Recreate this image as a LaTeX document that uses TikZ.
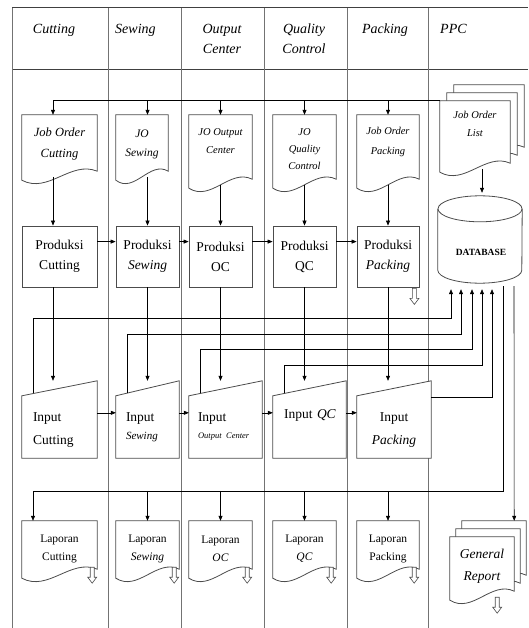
\documentclass[tikz,border=0pt]{standalone}
\usepackage{fontspec}
\setmainfont{Liberation Serif}
\usetikzlibrary{arrows.meta,calc,backgrounds}

% document sheet with a wavy lower edge: [offset]{node}{extra drop of the left corner}
\newcommand\docoutline[3][(0,0)]{%
  \draw[shapeline] ($(#2.south east)+(0,#3-9)+#1$) -- ($(#2.north east)+#1$) -- ($(#2.north west)+#1$) -- ($(#2.south west)+(0,#3)+#1$)
    .. controls ($(#2.south west)!0.35!(#2.south east)+(0,#3+14)+#1$) and ($(#2.south west)!0.65!(#2.south east)+(0,#3-20)+#1$) .. ($(#2.south east)+(0,#3-9)+#1$) coordinate[pos=0.5] (#2 wave) -- cycle;}
% manual input with slanted top
\newcommand\inoutline[1]{%
  \draw[shapeline] (#1.south west) -- ($(#1.north west)+(0,15)$) -- (#1.north east) -- (#1.south east) -- cycle;}
% small open arrow pointing down
\newcommand\hollowarrow[2]{%
  \draw[shapeline,line width=0.6pt] ($(#1)+#2+(-2,0)$) -- ++(0,10) -- ++(-2.5,0) -- ++(4.5,6) -- ++(4.5,-6) -- ++(-2.5,0) -- ++(0,-10) -- cycle;}

\begin{document}
\begin{tikzpicture}[x=1pt,y=-1pt,
  col/.style={draw=black!55,line width=1pt},
  frame/.style={draw=black!75,line width=1pt},
  shapeline/.style={draw=black!70,line width=0.8pt,fill=white},
  arr/.style={draw=black,line width=0.6pt,-{Triangle[length=5pt,width=4pt]}},
  hdr/.style={inner sep=0pt,align=center,anchor=north,font=\fontsize{14}{20}\selectfont\itshape},
  docnode/.style={inner sep=0pt,align=center},
  probox/.style={draw=black!70,line width=0.8pt,inner sep=0pt,minimum height=61pt,align=center,font=\fontsize{13.5}{20}\selectfont},
  innode/.style={inner sep=0pt,minimum height=77pt,align=left,font=\fontsize{13.5}{23}\selectfont},
  lapnode/.style={docnode,minimum height=56pt,font=\fontsize{11.5}{18}\selectfont}]
\useasboundingbox (0,0) rectangle (528,628);

% header
\node[hdr] (hcut) at (54,24) {Cutting};
\node[hdr,anchor=north west] (hsew) at (115,24) {Sewing};
\node[hdr] (hoc) at (222,24) {Output\\Center};
\node[hdr] (hqc) at (304,24) {Quality\\Control};
\node[hdr] (hpk) at (385,24) {Packing};
\node[hdr,anchor=north west] (hppc) at (440,24) {PPC};

% job orders
\node[docnode,minimum width=75pt,minimum height=58pt,font=\fontsize{12.5}{21}\selectfont\itshape] (jocut) at (59.5,144) {Job Order\\Cutting};
\node[docnode,minimum width=52pt,minimum height=59pt,font=\fontsize{11.5}{19}\selectfont\itshape] (jos) at (142,144.5) {JO\\Sewing};
\node[docnode,minimum width=63pt,minimum height=52pt,font=\fontsize{10.5}{18}\selectfont\itshape] (jooc) at (220.5,141) {JO Output\\Center};
\node[docnode,minimum width=63pt,minimum height=69pt,font=\fontsize{10.5}{17}\selectfont\itshape] (joqc) at (304.5,149.5) {JO\\Quality\\Control};
\node[docnode,minimum width=62pt,minimum height=54pt,font=\fontsize{10.5}{20}\selectfont\itshape] (jopk) at (388,142) {Job Order\\Packing};
\node[docnode,minimum width=70pt,minimum height=46pt,font=\fontsize{10.5}{18}\selectfont\itshape] (jol) at (475,124) {Job Order\\List};

% production
\node[probox,minimum width=75pt] (prcut) at (59.5,256.5) {Produksi\\Cutting};
\node[probox,minimum width=63pt] (prsew) at (147.5,256.5) {Produksi\\\textit{Sewing}};
\node[probox,minimum width=63pt] (proc) at (220.5,256.5) {Produksi\\OC};
\node[probox,minimum width=63pt] (prqc) at (304.5,256.5) {Produksi\\QC};
\node[probox,minimum width=62pt] (prpk) at (388,256.5) {Produksi\\\textit{Packing}};

% database
\node[inner sep=0pt,minimum width=84pt,minimum height=87pt] (db) at (480,239.5) {};
\node[inner sep=0pt,font=\fontsize{9.5}{11}\selectfont\bfseries] (dbname) at (481,252) {DATABASE};

% input
\node[innode,minimum width=75pt,text width=53pt] (incut) at (59.5,419.5) {\rule{0pt}{29pt}Input\\Cutting};
\node[innode,minimum width=63pt,text width=43pt] (insew) at (147.5,419.5) {\rule{0pt}{24pt}Input\\[-5pt]{\fontsize{11}{12}\selectfont\itshape Sewing}};
\node[innode,minimum width=73pt,text width=55pt] (inoc) at (225.5,419.5) {\rule{0pt}{22pt}Input\\[-6pt]{\fontsize{8.5}{10}\selectfont\itshape Output Center}};
\node[innode,minimum width=73pt,text width=51pt,text depth=10pt] (inqc) at (309.5,419.5) {\mbox{Input \textit{QC}}};
\node[innode,minimum width=74pt,align=center] (inpk) at (394,419.5) {\rule{0pt}{29pt}Input\\\textit{Packing}};

% reports
\node[lapnode,minimum width=75pt] (lapcut) at (59.5,549) {Laporan\\Cutting};
\node[lapnode,minimum width=63pt] (lapsew) at (147.5,549) {Laporan\\\textit{Sewing}};
\node[lapnode,minimum width=63pt] (lapoc) at (220.5,549) {Laporan\\\textit{OC}};
\node[lapnode,minimum width=63pt] (lapqc) at (304.5,549) {Laporan\\\textit{QC}};
\node[lapnode,minimum width=62pt] (lappk) at (388,549) {Laporan\\Packing};
\node[docnode,minimum width=64pt,minimum height=58pt,font=\fontsize{13.5}{22}\selectfont\itshape] (gr) at (482,566) {General\\Report};

\begin{pgfonlayer}{background}
% swimlanes
\draw[frame] (12,8) -- (528,8);
\draw[frame] (12,70) -- (528,70);
\draw[col] (12,8) -- (12,628);
\draw[col] (108,8) -- (108,628);
\draw[col] (181,8) -- (181,628);
\draw[col] (264,8) -- (264,628);
\draw[col] (347,8) -- (347,628);
\draw[col] (428,8) -- (428,628);
% sheets
\docoutline{jocut}{7}
\docoutline{jos}{6}
\docoutline{jooc}{21}
\docoutline{joqc}{4}
\docoutline{jopk}{19}
\docoutline[(14,-16)]{jol}{25}
\docoutline[(7,-8)]{jol}{25}
\docoutline{jol}{25}
\inoutline{incut}
\inoutline{insew}
\inoutline{inoc}
\inoutline{inqc}
\inoutline{inpk}
\docoutline{lapcut}{1}
\docoutline{lapsew}{1}
\docoutline{lapoc}{1}
\docoutline{lapqc}{1}
\docoutline{lappk}{1}
\docoutline[(12,-16)]{gr}{5}
\docoutline[(6,-8)]{gr}{5}
\docoutline{gr}{5}
% cylinder
\draw[shapeline] ($(db.north west)+(0,13)$) -- ($(db.south west)+(0,-13)$) arc[start angle=180,end angle=0,x radius=42,y radius=13] -- ($(db.north east)+(0,13)$);
\draw[shapeline] ($(db.north)+(0,13)$) ellipse[x radius=42,y radius=13];
\end{pgfonlayer}

\hollowarrow{prpk.south east}{(-5,1)}
\hollowarrow{lapcut.south east}{(-5,-10)}
\hollowarrow{lapsew.south east}{(-5,-10)}
\hollowarrow{lapoc.south east}{(-5,-10)}
\hollowarrow{lapqc.south east}{(-5,-10)}
\hollowarrow{lappk.south east}{(-5,-10)}
\hollowarrow{gr.south east}{(-17,2)}

% job order list to each lane
\draw[arr] (jol.north west) -| ($(jocut.north)+(-6.5,0)$);
\draw[arr] (prsew.north |- jol.north west) -- (prsew.north |- jos.north);
\draw[arr] (proc.north |- jol.north west) -- (jooc.north);
\draw[arr] (prqc.north |- jol.north west) -- (joqc.north);
\draw[arr] (prpk.north |- jol.north west) -- (jopk.north);
\draw[arr] ([xshift=2pt]db.north |- jol wave) -- ([xshift=2pt,yshift=3pt]db.north);

% job order to production
\draw[arr] ($(prcut.north |- jocut wave)+(-6.5,0)$) -- ($(prcut.north)+(-6.5,0)$);
\draw[arr] (prsew.north |- jos wave) -- (prsew.north);
\draw[arr] (proc.north |- jooc wave) -- (proc.north);
\draw[arr] (prqc.north |- joqc wave) -- (prqc.north);
\draw[arr] (prpk.north |- jopk wave) -- (prpk.north);
\draw[arr] ([yshift=-16pt]prcut.north east) -- ([yshift=-16pt]prsew.north west);
\draw[arr] ([yshift=-16pt]prsew.north east) -- ([yshift=-16pt]proc.north west);
\draw[arr] ([yshift=-16pt]proc.north east) -- ([yshift=-16pt]prqc.north west);
\draw[arr] ([yshift=-16pt]prqc.north east) -- ([yshift=-16pt]prpk.north west);

% production to input
\draw[arr] ($(prcut.south)+(-6.5,0)$) -- ($(incut.north)+(-6.5,0)$);
\draw[arr] (prsew.south) -- (insew.north);
\draw[arr] (proc.south) -- (proc.south |- inoc.north);
\draw[arr] (prqc.south) -- (prqc.south |- inqc.north);
\draw[arr] (prpk.south) -- (prpk.south |- inpk.north);
\draw[arr] ([yshift=-32pt]incut.north east) -- ([yshift=-32pt]insew.north west);
\draw[arr] ([yshift=-32pt]insew.north east) -- ([yshift=-32pt]inoc.north west);
\draw[arr] ([yshift=-32pt]inoc.north east) -- ([yshift=-32pt]inqc.north west);
\draw[arr] ([yshift=-32pt]inqc.north east) -- ([yshift=-32pt]inpk.north west);

% input to database
\draw[arr] ($(incut.north west)+(11,12.5)$) -- ++(0,-75) -| ([xshift=-29pt,yshift=-6pt]db.south);
\draw[arr] ($(insew.north west)+(11,12.5)$) -- ++(0,-59) -| ([xshift=-19pt,yshift=-6pt]db.south);
\draw[arr] ($(inoc.north west)+(11,12.5)$) -- ++(0,-44) -| ([xshift=-8pt,yshift=-6pt]db.south);
\draw[arr] ($(inqc.north west)+(11,12.5)$) -- ++(0,-28) -| ([xshift=2pt,yshift=-6pt]db.south);
\draw[arr] ([yshift=-16pt]inpk.north east) -| ([xshift=12pt,yshift=-6pt]db.south);

% database to reports
\draw[arr] ([xshift=23pt,yshift=-3pt]db.south) |- ($(lapcut.north)+(-26.5,-30)$) -- ($(lapcut.north)+(-26.5,0)$);
\draw[arr] ([yshift=30pt]lapsew.north) -- (lapsew.north);
\draw[arr] ([yshift=30pt]lapoc.north) -- (lapoc.north);
\draw[arr] ([yshift=30pt]lapqc.north) -- (lapqc.north);
\draw[arr] ([yshift=30pt]lappk.north) -- (lappk.north);
\draw[arr] ([xshift=34pt,yshift=-3pt]db.south) -- ([yshift=16pt]gr.north east);
\end{tikzpicture}
\end{document}
